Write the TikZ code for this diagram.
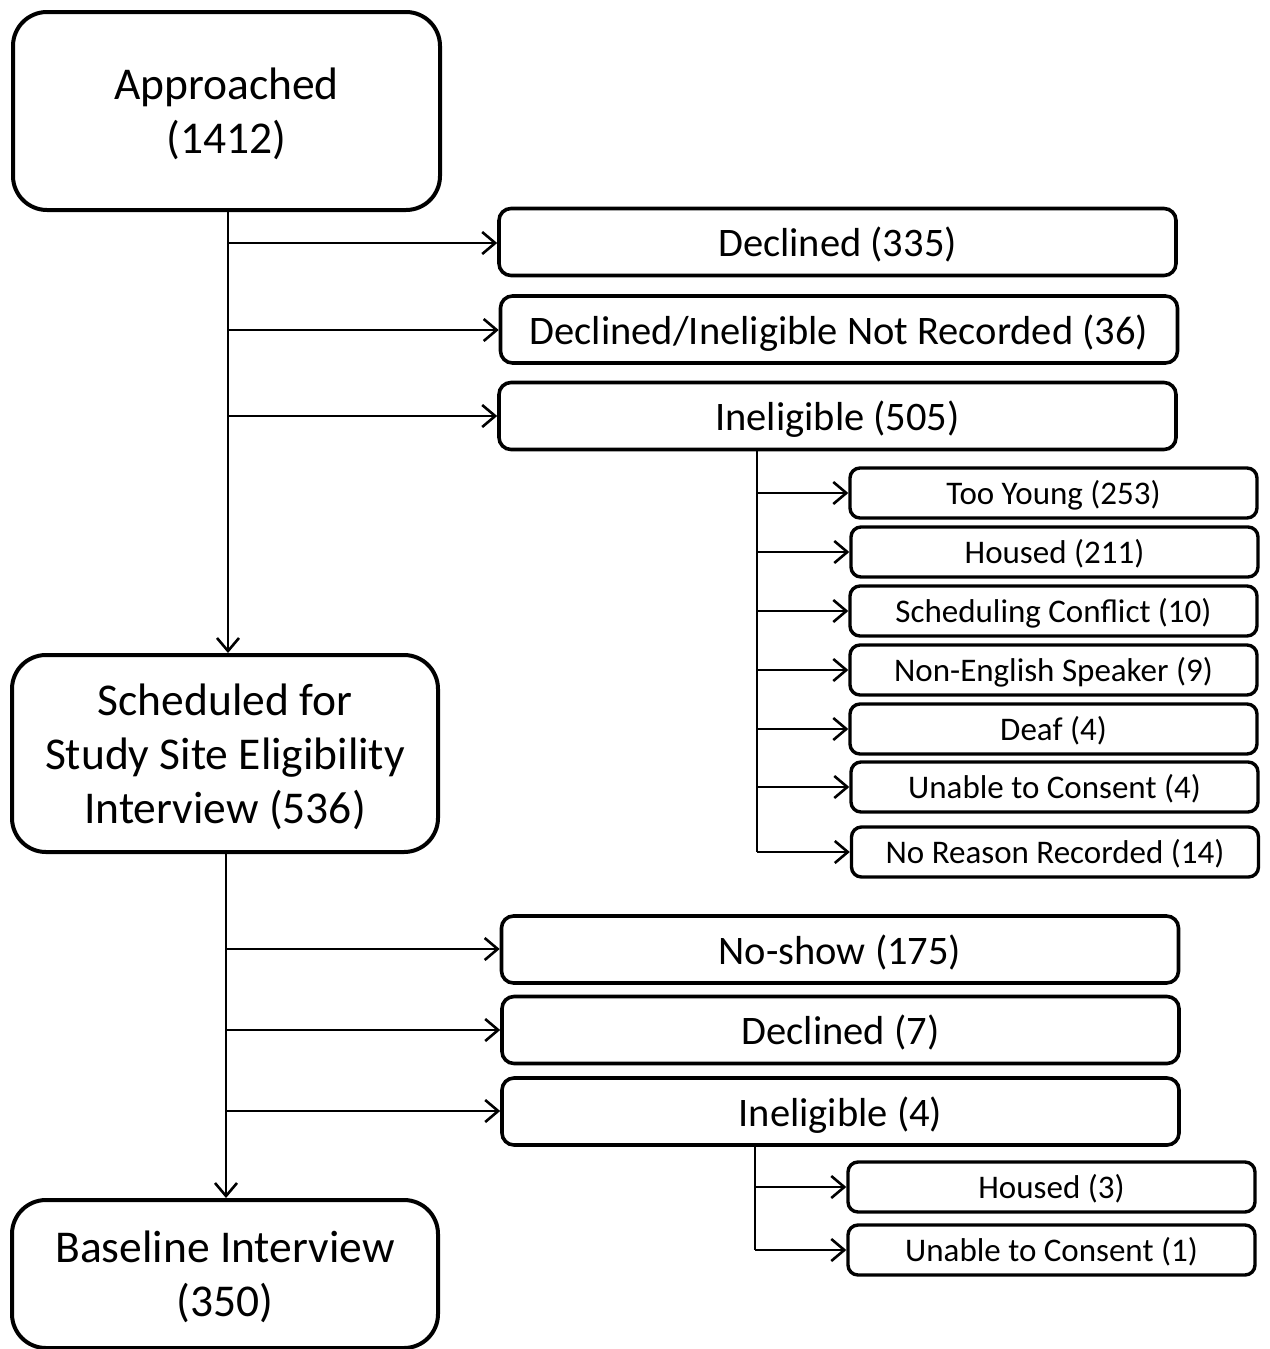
\documentclass[tikz,border=0pt]{standalone}
\usepackage{fontspec}
\setmainfont{Carlito}
\usetikzlibrary{arrows.meta}
\newcommand\topstrut{\rule{0pt}{42pt}}
\newcommand\botstrut{\rule[-11pt]{0pt}{11pt}}
\tikzset{
  boxbase/.style n args={2}{draw, align=center, inner sep=0pt,
    execute at begin node={\rule{0pt}{#1}},
    execute at end node={\rule[-#2]{0pt}{#2}}},
  bigbox/.style={draw, align=center, inner sep=0pt, line width=4pt, rounded corners=34pt,
    font=\fontsize{45.5}{54}\selectfont},
  midbox/.style={boxbase={39pt}{9.5pt}, line width=3.6pt, rounded corners=12pt,
    minimum width=677pt, minimum height=67pt, font=\fontsize{40.5}{50}\selectfont},
  smallbox/.style={boxbase={30pt}{8pt}, line width=3.4pt, rounded corners=10pt,
    minimum width=407pt, minimum height=50pt, font=\fontsize{33}{40}\selectfont},
  conn/.style={line width=2.4pt},
  arr/.style={conn, -{Straight Barb[length=13pt,width=22pt,line width=2.6pt]}},
}
\begin{document}
\begin{tikzpicture}[x=1pt,y=-1pt]
\useasboundingbox[fill=white] (0,0) rectangle (1269,1349);
% main boxes
\node[bigbox, minimum width=427pt, minimum height=198pt] (app) at (226.5,111) {\topstrut Approached\\(1412)\botstrut};
\node[bigbox, minimum width=426pt, minimum height=197pt] (sch) at (225,753.5) {\topstrut Scheduled for\\Study Site Eligibility\\Interview (536)\botstrut};
\node[bigbox, minimum width=426pt, minimum height=148pt] (base) at (225,1274) {\topstrut Baseline Interview\\(350)\botstrut};
% first-stage outcomes
\node[midbox] (dec1) at (837.5,242) {Declined (335)};
\node[midbox] (dnr) at (839,329.5) {Declined/Ineligible Not Recorded (36)};
\node[midbox] (inel1) at (837.5,416) {Ineligible (505)};
% ineligible reasons
\node[smallbox] (young) at (1053.5,493) {Too Young (253)};
\node[smallbox] (housed1) at (1054.5,552) {Housed (211)};
\node[smallbox] (sched) at (1053.5,611) {Scheduling Conflict (10)};
\node[smallbox] (noneng) at (1053.5,670) {Non-English Speaker (9)};
\node[smallbox] (deaf) at (1053.5,729) {Deaf (4)};
\node[smallbox] (unable1) at (1054.5,787) {Unable to Consent (4)};
\node[smallbox] (norsn) at (1055,852) {No Reason Recorded (14)};
% second-stage outcomes
\node[midbox] (noshow) at (840,949.5) {No-show (175)};
\node[midbox] (dec2) at (840.5,1030) {Declined (7)};
\node[midbox] (inel2) at (840.5,1111.5) {Ineligible (4)};
\node[smallbox] (housed2) at (1051.5,1187) {Housed (3)};
\node[smallbox] (unable2) at (1051.5,1250) {Unable to Consent (1)};
% connectors: stage 1
\coordinate (t1) at (228,243);
\coordinate (t2) at (228,330);
\coordinate (t3) at (228,416);
\draw[arr] (app.south -| t1) -- (sch.north -| t1);
\draw[arr] (t1) -- (dec1.west |- t1);
\draw[arr] (t2) -- (dnr.west |- t2);
\draw[arr] (t3) -- (inel1.west |- t3);
% ineligible tree 1
\coordinate (v1) at (757,416);
\draw[conn] (inel1.south -| v1) -- (v1 |- norsn.west);
\foreach \n in {young,housed1,sched,noneng,deaf,unable1,norsn}
  \draw[arr] (v1 |- \n.west) -- (\n.west);
% connectors: stage 2
\coordinate (s1) at (226,949);
\coordinate (s2) at (226,1030);
\coordinate (s3) at (226,1111);
\draw[arr] (sch.south -| s1) -- (base.north -| s1);
\draw[arr] (s1) -- (noshow.west |- s1);
\draw[arr] (s2) -- (dec2.west |- s2);
\draw[arr] (s3) -- (inel2.west |- s3);
% ineligible tree 2
\coordinate (v2) at (755,1111);
\draw[conn] (inel2.south -| v2) -- (v2 |- unable2.west);
\foreach \n in {housed2,unable2}
  \draw[arr] (v2 |- \n.west) -- (\n.west);
\end{tikzpicture}
\end{document}
